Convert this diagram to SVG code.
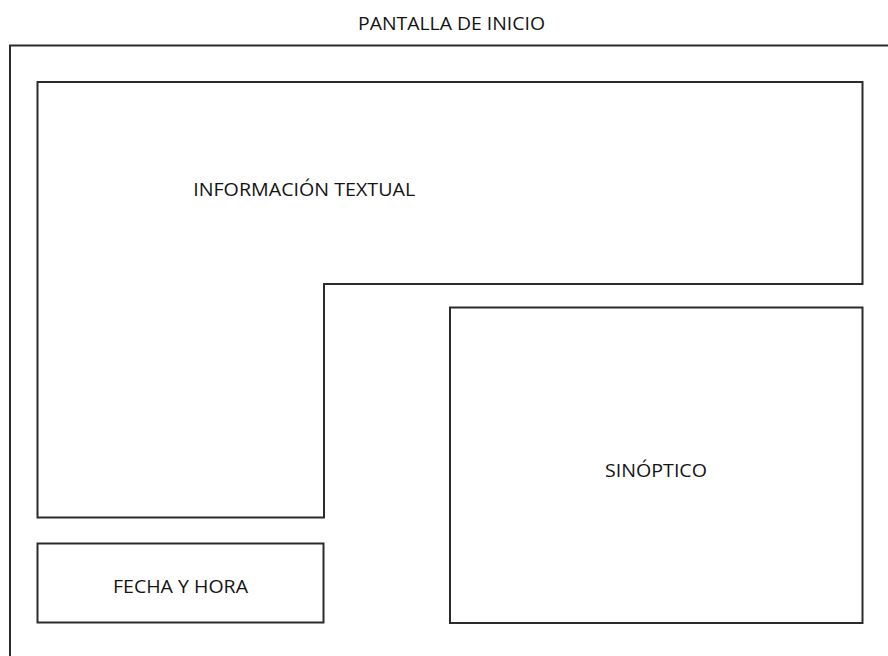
<svg xmlns="http://www.w3.org/2000/svg" width="888" height="656" viewBox="0 0 888 656">
<style>
.box{fill:none;stroke:#2b2b2b;stroke-width:2}
.lbl{font-family:"Open Sans","Liberation Sans",sans-serif;font-size:18.5px;fill:#141414;text-anchor:middle}
</style>
<rect width="888" height="656" fill="#fff"/>
<g id="pantalla">
<path class="box" d="M10,700 L10,45.5 L900,45.5"/>
<text class="lbl" x="451.5" y="30" textLength="187" lengthAdjust="spacingAndGlyphs">PANTALLA DE INICIO</text>
</g>
<g id="informacion">
<path class="box" d="M37.5,82 L862.5,82 L862.5,284 L324,284 L324,517.5 L37.5,517.5 Z"/>
<text class="lbl" x="304.2" y="196" textLength="222" lengthAdjust="spacingAndGlyphs">INFORMACIÓN TEXTUAL</text>
</g>
<g id="fecha">
<rect class="box" x="37.5" y="543.5" width="286" height="79"/>
<text class="lbl" x="180.5" y="593" textLength="135" lengthAdjust="spacingAndGlyphs">FECHA Y HORA</text>
</g>
<g id="sinoptico">
<rect class="box" x="450" y="307.5" width="412.5" height="315.5"/>
<text class="lbl" x="656" y="477" textLength="102" lengthAdjust="spacingAndGlyphs">SINÓPTICO</text>
</g>
<g id="connectors"/>
</svg>
